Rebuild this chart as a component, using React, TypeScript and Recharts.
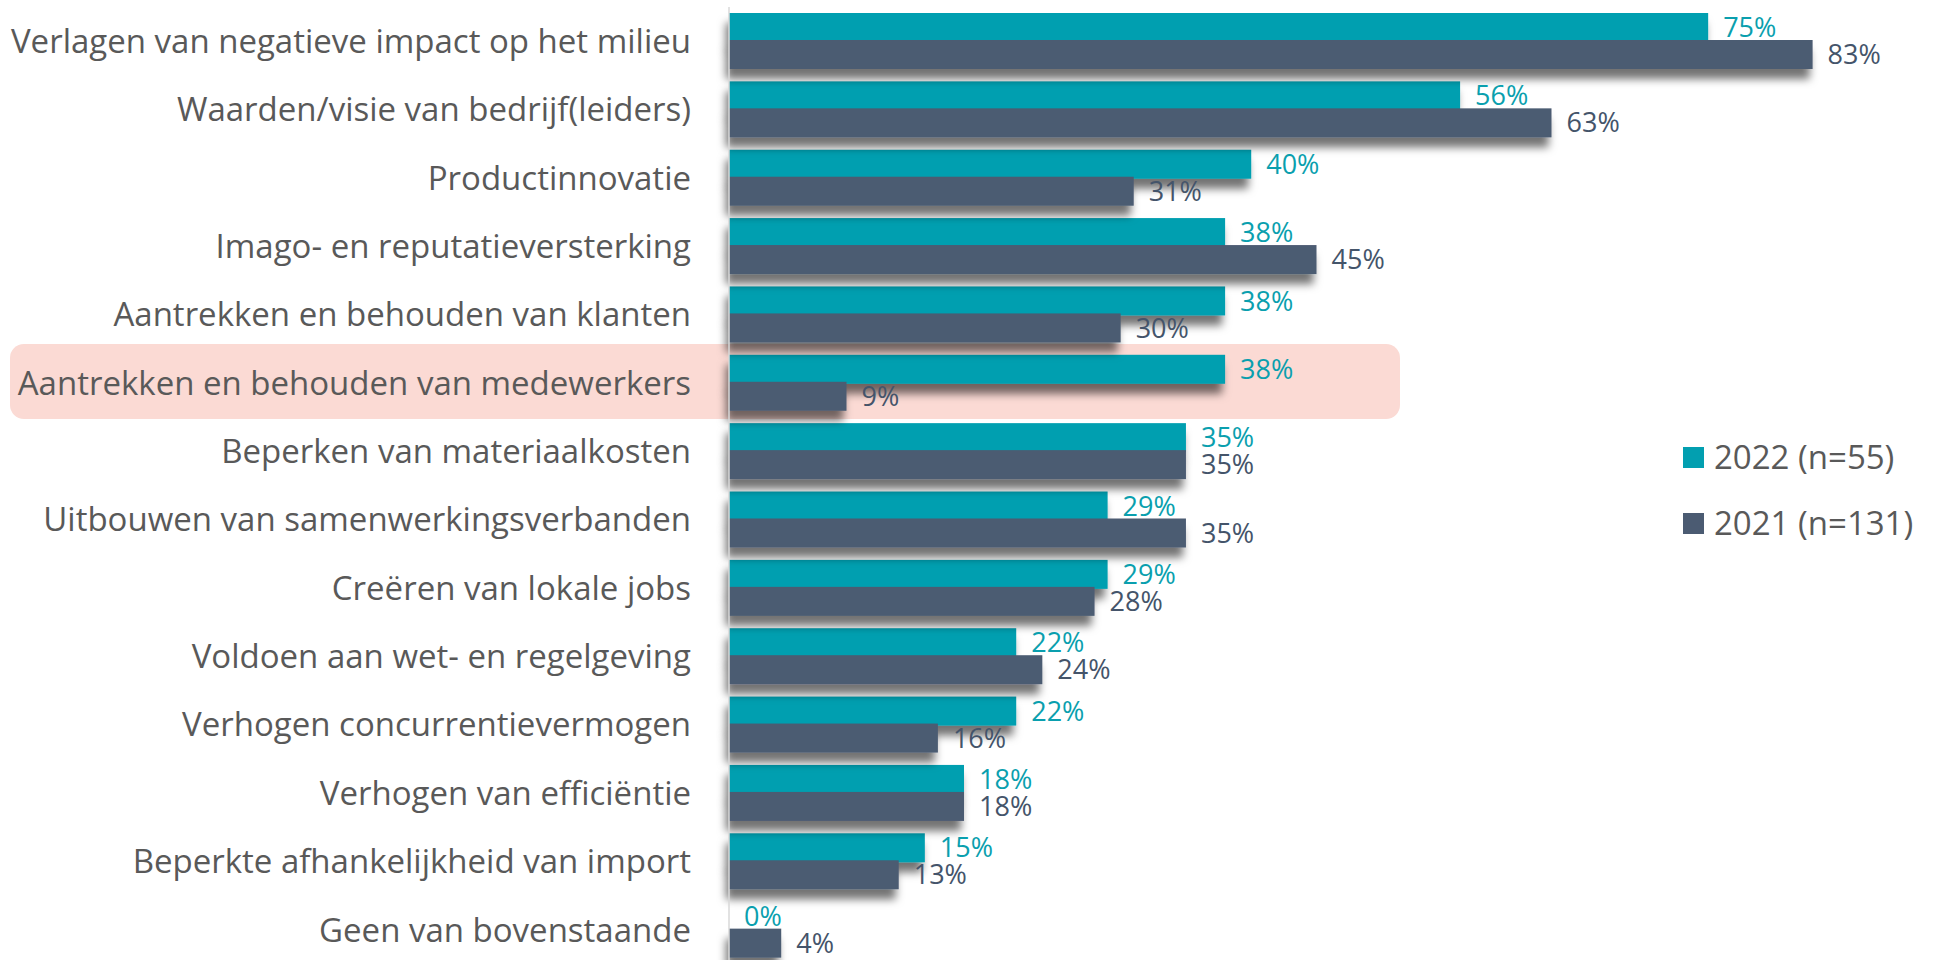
import React from 'react';
import { BarChart, Bar, XAxis, YAxis, LabelList } from 'recharts';

const categories = [
  'Verlagen van negatieve impact op het milieu',
  'Waarden/visie van bedrijf(leiders)',
  'Productinnovatie',
  'Imago- en reputatieversterking',
  'Aantrekken en behouden van klanten',
  'Aantrekken en behouden van medewerkers',
  'Beperken van materiaalkosten',
  'Uitbouwen van samenwerkingsverbanden',
  'Creëren van lokale jobs',
  'Voldoen aan wet- en regelgeving',
  'Verhogen concurrentievermogen',
  'Verhogen van efficiëntie',
  'Beperkte afhankelijkheid van import',
  'Geen van bovenstaande',
];
const values2022 = [0.75, 0.56, 0.40, 0.38, 0.38, 0.38, 0.35, 0.29, 0.29, 0.22, 0.22, 0.18, 0.15, 0.0];
const values2021 = [0.83, 0.63, 0.31, 0.45, 0.30, 0.09, 0.35, 0.35, 0.28, 0.24, 0.16, 0.18, 0.13, 0.04];
const seriesNames = ['2022 (n=55)', '2021 (n=131)'];
const seriesColors = ['#029FB0', '#4B5B72'];
const labelColors = ['#0A9FAE', '#44546A'];

const data = categories.map((c, i) => ({ name: c, y2022: values2022[i], y2021: values2021[i] }));

const FONT = '"Open Sans", sans-serif';
const pct = (v: any) => `${Math.round(Number(v) * 100)}%`;

const ShadowRect = (props: any) => {
  const { x, y, width, height, fill } = props;
  if (!width || width <= 0) return <g />;
  return <rect x={x} y={y} width={width} height={height} fill={fill} filter="url(#barShadow)" />;
};

export default function App() {
  return (
    <div style={{ position: 'absolute', left: 0, top: 0, width: 1942, height: 960, overflow: 'hidden', background: '#fff', fontFamily: FONT }}>
      <div style={{ position: 'absolute', left: 10, top: 344, width: 1390, height: 75, background: '#FBDAD4', borderRadius: 14 }} />
      <div style={{ position: 'absolute', left: 0, top: 0 }}>
        <BarChart
          width={1942}
          height={964}
          layout="vertical"
          data={data}
          margin={{ top: 7, right: 38, bottom: 0, left: 0 }}
          barGap={-2}
          barSize={29}
        >
          <defs>
            <filter id="barShadow" x="-50%" y="-100%" width="200%" height="300%">
              <feDropShadow dx="-3" dy="10" stdDeviation="4" floodColor="#000" floodOpacity="0.55" />
            </filter>
          </defs>
          <XAxis type="number" domain={[0, 0.9]} hide />
          <YAxis
            type="category"
            dataKey="name"
            width={729}
            axisLine={{ stroke: '#D9D9D9', strokeWidth: 1.5 }}
            tickLine={false}
            tickMargin={32}
            interval={0}
            tick={{ fill: '#595959', fontSize: 33, fontFamily: FONT }}
          />
          <Bar dataKey="y2022" name={seriesNames[0]} fill={seriesColors[0]} isAnimationActive={false} shape={ShadowRect}>
            <LabelList dataKey="y2022" position="right" offset={15} formatter={pct} fill={labelColors[0]} fontSize={27} fontFamily={FONT} />
          </Bar>
          <Bar dataKey="y2021" name={seriesNames[1]} fill={seriesColors[1]} isAnimationActive={false} shape={ShadowRect}>
            <LabelList dataKey="y2021" position="right" offset={15} formatter={pct} fill={labelColors[1]} fontSize={27} fontFamily={FONT} />
          </Bar>
        </BarChart>
      </div>
      <div style={{ position: 'absolute', left: 1683, top: 424, fontSize: 33, color: '#595959', lineHeight: '66px' }}>
        {seriesNames.map((n, i) => (
          <div key={n} style={{ display: 'flex', alignItems: 'center', height: 66 }}>
            <span style={{ display: 'inline-block', width: 21, height: 21, background: seriesColors[i], marginRight: 10 }} />
            <span>{n}</span>
          </div>
        ))}
      </div>
    </div>
  );
}
